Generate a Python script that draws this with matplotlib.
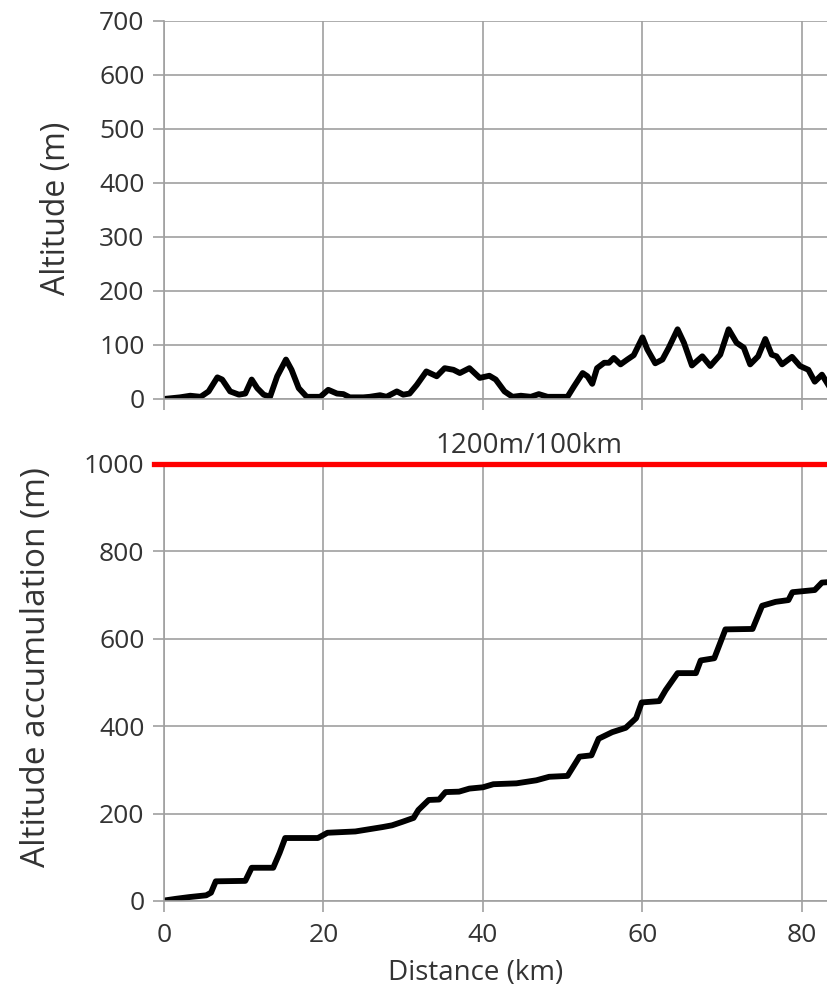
import numpy as np
import matplotlib
matplotlib.use("Agg")
import matplotlib.pyplot as plt

# elevation profile along the route
alt_km = [0, 2, 3.3, 4.6, 5.6, 6.7, 7.3, 8.3, 9.4, 10.2,
          11, 11.7, 12.5, 13.3, 14.2, 15.3, 16, 16.9, 17.9, 19.6,
          20.6, 21.7, 22.5, 23.3, 25, 25.8, 27.1, 27.9, 29.2, 30,
          30.8, 31.7, 32.9, 34.2, 35.2, 36.3, 37.1, 38.3, 39.6, 40.8,
          41.6, 42.7, 43.7, 44.75, 46, 47, 48.1, 50.6, 51.4, 52.5,
          53.1, 53.7, 54.3, 55.2, 55.8, 56.4, 57.25, 58.1, 58.9, 60,
          60.6, 61.6, 62.5, 63.3, 64.4, 65.2, 66.2, 67.5, 68.5, 69.75,
          70.8, 71.8, 72.7, 73.5, 74.5, 75.4, 76.2, 76.8, 77.5, 78.75,
          79.75, 80.8, 81.6, 82.5, 83.3, 84]
alt_m = [0, 3, 6, 4, 14, 40, 36, 14, 8, 10,
         36, 20, 8, 4, 42, 73, 54, 20, 4, 4,
         17, 10, 9, 3, 3, 4, 7, 4, 14, 8,
         10, 26, 51, 42, 57, 54, 48, 57, 39, 43,
         36, 14, 4, 6, 4, 9, 4, 4, 23, 48,
         42, 28, 57, 67, 67, 76, 64, 73, 81, 114,
         92, 66, 73, 95, 129, 104, 62, 79, 61, 82,
         129, 104, 95, 64, 79, 111, 82, 79, 64, 78,
         61, 54, 32, 45, 26, 30]

# accumulated climb
acc_km = [0, 1.5, 3.2, 5.3, 5.9, 6.5, 10.2, 11, 13.7, 14.5,
          15.2, 19.3, 20.5, 24, 25.7, 27.4, 28.6, 29.9, 31.3, 31.9,
          33.2, 34.5, 35.3, 37, 38.3, 40, 41.3, 44.2, 46.7, 48.3,
          50.6, 52.1, 53.6, 54.5, 56.2, 57.9, 59.2, 59.9, 62.1, 62.9,
          64.4, 66.7, 67.3, 69, 70.4, 73.8, 75, 76.7, 78.3, 78.8,
          81.6, 82.5, 84]
acc_m = [1, 5, 9, 13, 19, 45, 46, 76, 76, 110,
         144, 144, 156, 159, 164, 169, 173, 181, 190, 208,
         231, 232, 249, 250, 257, 260, 267, 269, 276, 284,
         286, 330, 333, 371, 386, 396, 418, 454, 457, 482,
         521, 521, 550, 555, 621, 622, 675, 684, 688, 706,
         711, 728, 730]

limit_m = 1000
limit_label = "1200m/100km"

x_ticks = [0, 20, 40, 60, 80]
top_ticks = list(range(0, 701, 100))
bot_ticks = list(range(0, 1001, 200))

plt.rcParams['font.family'] = ['Open Sans', 'DejaVu Sans']
TXT = '#333333'
GRID = '#a0a0a0'

fig = plt.figure(figsize=(8.28, 9.9), dpi=100)
ax1 = fig.add_axes([0.198, 0.597, 0.802, 0.382])
ax2 = fig.add_axes([0.198, 0.0899, 0.802, 0.4418])


def style(ax, yticks):
    ax.set_xlim(0, 83.26)
    ax.set_ylim(yticks[0], yticks[-1])
    ax.set_xticks(x_ticks)
    ax.set_yticks(yticks)
    for s in ['top', 'right']:
        ax.spines[s].set_visible(False)
    for s in ['left', 'bottom']:
        ax.spines[s].set_color(GRID)
        ax.spines[s].set_linewidth(1.2)
    ax.grid(True, color=GRID, linewidth=1.2)
    ax.set_axisbelow(True)
    ax.tick_params(length=8, width=1.2, color=GRID, labelsize=19,
                   labelcolor=TXT)
    ax.tick_params(axis='y', pad=6)
    ax.tick_params(axis='x', pad=8)


style(ax1, top_ticks)
style(ax2, bot_ticks)
ax1.tick_params(axis='x', labelbottom=False)

ax1.plot(alt_km, alt_m, color='black', lw=4.2, solid_joinstyle='round')
ax2.plot(acc_km, acc_m, color='black', lw=4.2, solid_joinstyle='round')

ax2.plot([-1.2, 84], [limit_m, limit_m], color='#ff0000', lw=3.8,
         clip_on=False, zorder=5)
ax2.text(45.8, limit_m + 24, limit_label, ha='center', va='baseline',
         fontsize=20, color=TXT, clip_on=False)

ax1.set_ylabel("Altitude (m)", fontsize=23, color=TXT)
ax1.yaxis.set_label_coords(-0.137, 0.503)
ax2.set_ylabel("Altitude accumulation (m)", fontsize=24, color=TXT)
ax2.yaxis.set_label_coords(-0.167, 0.535)

fig.text(476 / 828, 1 - 973 / 990, "Distance (km)", ha='center',
         va='center', fontsize=20, color=TXT)

fig.savefig("out.png", dpi=100)
